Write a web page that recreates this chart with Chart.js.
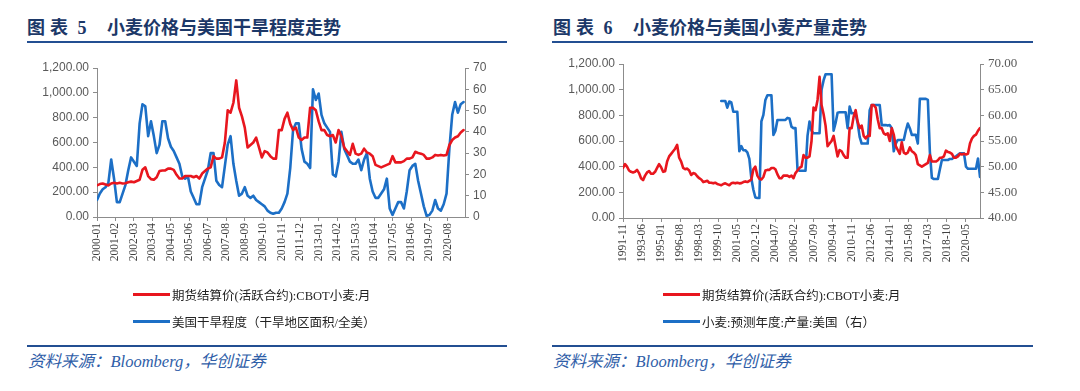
<!DOCTYPE html>
<html>
<head>
<meta charset="utf-8">
<script src="https://cdn.jsdelivr.net/npm/chart.js@4.4.0/dist/chart.umd.min.js"></script>
<style>
  body { margin:0; background:#fff; width:1080px; height:391px; position:relative; overflow:hidden; font-family:"Noto Sans CJK SC", sans-serif; }
  .title { position:absolute; top:15px; line-height:22px; font-size:18px; font-weight:700; color:#1c3868; white-space:nowrap; }
  .title .num { font-family:"Liberation Serif", serif; font-weight:700; }
  .title .main { letter-spacing:1.6px; }
  .rule { position:absolute; height:0; border-top:2.5px solid #234f92; }
  .legend { position:absolute; top:281px; font-size:12.5px; color:#222; white-space:nowrap; font-family:"Liberation Serif", "Noto Sans CJK SC", serif; }
  .legend .row { display:flex; align-items:center; height:27px; }
  .legend .sw { width:37px; height:3px; margin-right:2px; }
  .src { position:absolute; top:352px; line-height:20px; font-size:16.5px; font-style:italic; color:#2f5ea8; font-family:"Liberation Serif", "Noto Sans CJK SC", serif; white-space:nowrap; }
  canvas { position:absolute; }
</style>
</head>
<body>

<div class="title" style="left:27px"><span style="letter-spacing:5px">图表</span><span class="num"> 5</span></div>
<div class="title main" style="left:107px">小麦价格与美国干旱程度走势</div>
<div class="rule" style="left:27px; width:480px; top:41px"></div>

<div class="title" style="left:553px"><span style="letter-spacing:5px">图表</span><span class="num"> 6</span></div>
<div class="title main" style="left:633px">小麦价格与美国小麦产量走势</div>
<div class="rule" style="left:552px; width:481px; top:41px"></div>

<canvas id="chartL" width="530" height="240" style="left:0; top:50px"></canvas>
<canvas id="chartR" width="540" height="240" style="left:540px; top:50px"></canvas>

<div class="legend" style="left:133px">
  <div class="row"><span class="sw" style="background:#e8161e"></span>期货结算价(活跃合约):CBOT小麦:月</div>
  <div class="row"><span class="sw" style="background:#1c6fc6"></span>美国干旱程度（干旱地区面积/全美）</div>
</div>
<div class="legend" style="left:663px">
  <div class="row"><span class="sw" style="background:#e8161e"></span>期货结算价(活跃合约):CBOT小麦:月</div>
  <div class="row"><span class="sw" style="background:#1c6fc6"></span>小麦:预测年度:产量:美国（右）</div>
</div>

<div class="rule" style="left:27px; width:480px; top:345px"></div>
<div class="rule" style="left:552px; width:481px; top:345px"></div>
<div class="src" style="left:28px">资料来源：Bloomberg，华创证券</div>
<div class="src" style="left:553px">资料来源：Bloomberg，华创证券</div>

<script>
// 刻度标签
const leftTicks = ['2000-01','2001-02','2002-03','2003-04','2004-05','2005-06','2006-07','2007-08','2008-09','2009-10',
  '2010-11','2011-12','2013-01','2014-02','2015-03','2016-04','2017-05','2018-06','2019-07','2020-08'];
const rightTicks = ['1991-11','1993-06','1995-01','1996-08','1998-03','1999-10','2001-05','2002-12','2004-07','2006-02',
  '2007-09','2009-04','2010-11','2012-06','2014-01','2015-08','2017-03','2018-10','2020-05'];

// 数据：每两个月取一个值
const STEP = 2;
const wheatStart = '1991-11';   // CBOT小麦 (美分/蒲式耳)
const wheatPrice = [
  390,420,400,370,360,355,360,375,350,310,295,330,355,365,345,345,360,390,420,395,
  360,365,440,480,500,520,540,570,470,440,390,380,385,370,335,350,345,325,310,300,
  280,285,290,275,275,270,275,265,260,
  255,265,270,262,255,270,275,270,275,270,272,280,285,280,290,300,380,400,330,305,
  300,320,370,375,375,390,390,380,340,310,310,330,330,330,320,330,310,350,370,390,
  400,490,470,470,480,600,860,840,920,1100,880,810,720,560,580,600,640,560,480,530,
  520,490,470,470,700,700,790,840,750,700,720,640,620,640,640,880,880,860,770,700,
  700,660,650,660,600,700,650,560,530,500,590,510,500,510,550,520,510,490,420,410,
  400,410,420,430,490,440,440,440,450,470,470,480,525,515,510,500,470,470,480,500,
  495,500,495,500,580,620,640,650,680,700
];
const droughtStart = '2000-01';  // 干旱面积占比 (%)
const droughtArea = [
  8,11,13,14,16,27,18,7,7,11,15,22,28,26,24,44,53,52,38,45,
  38,30,34,45,45,37,33,31,28,25,19,18,19,12,9,6,6,14,18,22,
  30,30,17,15,14,24,34,38,25,17,10,11,14,10,9,10,8,7,6,5,
  3,2,1.5,2,2,4,7,11,23,41,44,44,32,26,25,23,60,55,58,48,
  44,42,40,20,19,26,40,32,29,26,25,25,27,22,27,30,18,12,9,9,
  11,13,18,4,1,4,7,7,4,12,22,24,25,17,11,5,0.5,1,3,8,
  4,3,6,11,32,48,54,49,53,54
];
const prodStart = '2000-01';     // 美国小麦产量预测 (百万吨)
const wheatProd = [
  62.8,62.8,62.8,61.5,62.7,62.5,60.7,60.7,60.7,53,
  54,53.2,53.2,52.8,51.5,47.7,45.5,44,43.9,43.9,
  58.8,60.1,63,63.9,63.9,63.9,56.2,57,59.1,59.1,
  59.1,59.1,59.1,59.5,59.4,57.8,57.5,57.5,49.5,49.2,
  49.2,49.2,49.2,56,58.8,57,56.5,56.5,56.5,56.5,
  65,66.8,68,68,68,68,57,58.5,60.5,60.6,
  60.6,60.6,60.6,57.5,61.7,60.4,60.4,60.2,58.5,55.8,
  54.5,54.5,54.5,54.5,61,62,62,62,62,62,
  58.1,58.1,58.1,58,58.1,57.5,53,54.5,55.2,55.2,
  55.2,55.2,57,58.4,57.5,56.2,56.2,56.2,54.5,63.2,
  63.2,63.2,63.2,63,52.9,47.8,47.6,47.6,47.6,49.5,
  51.3,51.3,51.3,51.3,51.5,51.5,51.8,52,52.3,52.6,
  52.6,52.6,50,49.6,49.6,49.6,49.6,49.6,51.6,48
];

const RED = '#e8161e';
const BLUE = '#1c6fc6';
const AXIS = '#8c8c8c';
const TICK_TXT = '#595959';

function toMonth(s) {
  const [y, m] = s.split('-').map(Number);
  return y * 12 + m - 1;
}
function series(start, values) {
  const m0 = toMonth(start);
  return values.map((v, i) => ({ x: m0 + i * STEP, y: v }));
}

function xAxis(labels, min, max, h) {
  return {
    type: 'linear', min: min, max: max, bounds: 'data',
    afterBuildTicks: a => { a.ticks = labels.map(l => ({ value: toMonth(l) })); },
    afterFit: a => { a.height = h; },
    grid: { display: true, drawOnChartArea: false, drawTicks: true, tickLength: 4, color: AXIS },
    border: { display: true, color: AXIS, width: 1 },
    ticks: {
      autoSkip: false, minRotation: 90, maxRotation: 90, padding: 2, color: '#404040',
      font: { family: '"Liberation Serif", serif', size: 11.5 },
      callback: (v, i) => labels[i]
    }
  };
}

function yAxis(pos, min, max, step, w, fmt, font) {
  return {
    position: pos, min: min, max: max,
    afterFit: a => { a.width = w; },
    grid: { display: true, drawOnChartArea: false, drawTicks: true, tickLength: 4, color: AXIS },
    border: { display: true, color: AXIS, width: 1 },
    ticks: { stepSize: step, color: TICK_TXT, padding: 4, font: font, callback: fmt }
  };
}

function lineSet(data, color, axis) {
  return {
    data: data, yAxisID: axis, borderColor: color, borderWidth: 2.6,
    pointRadius: 0, tension: 0, borderJoinStyle: 'round', borderCapStyle: 'round', fill: false
  };
}

const money = v => v.toLocaleString('en-US', { minimumFractionDigits: 2, maximumFractionDigits: 2 });
const sansFont = { family: '"Liberation Sans", Arial, sans-serif', size: 12 };
const serifFont = { family: '"Liberation Serif", serif', size: 13 };

const wheatAll = series(wheatStart, wheatPrice);
const leftMin = toMonth('2000-01');

// 图表5
new Chart(document.getElementById('chartL'), {
  type: 'line',
  data: {
    datasets: [
      lineSet(wheatAll.filter(p => p.x >= leftMin), RED, 'y'),
      lineSet(series(droughtStart, droughtArea), BLUE, 'y1')
    ]
  },
  options: {
    responsive: false, animation: false, devicePixelRatio: 1,
    layout: { padding: { top: 18, left: 0, right: 0, bottom: 0 } },
    plugins: { legend: { display: false }, tooltip: { enabled: false } },
    scales: {
      x: xAxis(leftTicks, leftMin, toMonth('2021-08'), 73),
      y: yAxis('left', 0, 1200, 200, 97, money, sansFont),
      y1: yAxis('right', 0, 70, 10, 65, v => v, sansFont)
    }
  }
});

// 图表6
new Chart(document.getElementById('chartR'), {
  type: 'line',
  data: {
    datasets: [
      lineSet(wheatAll, RED, 'y'),
      lineSet(series(prodStart, wheatProd), BLUE, 'y1')
    ]
  },
  options: {
    responsive: false, animation: false, devicePixelRatio: 1,
    layout: { padding: { top: 14, left: 0, right: 0, bottom: 0 } },
    plugins: { legend: { display: false }, tooltip: { enabled: false } },
    scales: {
      x: xAxis(rightTicks, toMonth('1991-11'), toMonth('2021-07'), 72),
      y: yAxis('left', 0, 1200, 200, 83, money, sansFont),
      y1: yAxis('right', 40, 70, 5, 100, v => v.toFixed(2), serifFont)
    }
  }
});
</script>
</body>
</html>
